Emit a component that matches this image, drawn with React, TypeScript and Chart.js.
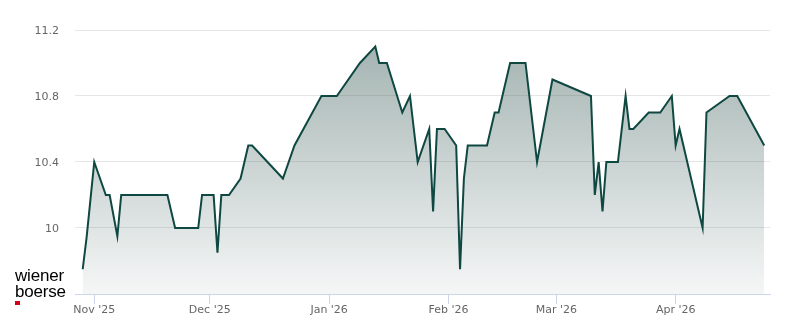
import React, { useEffect, useRef } from "react";
import { Chart, registerables } from "chart.js";

Chart.register(...registerables);

const dates: string[] = [
  "2025-10-29", "2025-10-30", "2025-11-01", "2025-11-04", "2025-11-05", "2025-11-07", "2025-11-08",
  "2025-11-20", "2025-11-22", "2025-11-28", "2025-11-29", "2025-12-02", "2025-12-03", "2025-12-04",
  "2025-12-06", "2025-12-09", "2025-12-11", "2025-12-12", "2025-12-20", "2025-12-23", "2025-12-30",
  "2026-01-03", "2026-01-09", "2026-01-13", "2026-01-14", "2026-01-16", "2026-01-20", "2026-01-22",
  "2026-01-24", "2026-01-27", "2026-01-28", "2026-01-29", "2026-01-31", "2026-02-03", "2026-02-04",
  "2026-02-05", "2026-02-06", "2026-02-11", "2026-02-13", "2026-02-14", "2026-02-17", "2026-02-21",
  "2026-02-24", "2026-02-28", "2026-03-10", "2026-03-11", "2026-03-12", "2026-03-13", "2026-03-14",
  "2026-03-17", "2026-03-19", "2026-03-20", "2026-03-21", "2026-03-25", "2026-03-28", "2026-03-31",
  "2026-04-01", "2026-04-02", "2026-04-08", "2026-04-09", "2026-04-15", "2026-04-17", "2026-04-24",
];

const prices: number[] = [
  9.75, 9.94, 10.4, 10.2, 10.2, 9.95, 10.2,
  10.2, 10.0, 10.0, 10.2, 10.2, 9.85, 10.2,
  10.2, 10.3, 10.5, 10.5, 10.3, 10.5, 10.8,
  10.8, 11.0, 11.1, 11.0, 11.0, 10.7, 10.8,
  10.4, 10.6, 10.1, 10.6, 10.6, 10.5, 9.75,
  10.3, 10.5, 10.5, 10.7, 10.7, 11.0, 11.0,
  10.4, 10.9, 10.8, 10.2, 10.4, 10.1, 10.4,
  10.4, 10.8, 10.6, 10.6, 10.7, 10.7, 10.8,
  10.5, 10.6, 10.0, 10.7, 10.8, 10.8, 10.5,
];

const monthStarts: string[] = ["2025-11-01", "2025-12-01", "2026-01-01", "2026-02-01", "2026-03-01", "2026-04-01"];
const monthLabels: string[] = ["Nov '25", "Dec '25", "Jan '26", "Feb '26", "Mar '26", "Apr '26"];

const yTicks: number[] = [9.6, 10, 10.4, 10.8, 11.2];
const xRangeStart = "2025-10-27";
const xRangeEnd = "2026-04-25T12:00:00Z";

const toMs = (s: string) => (s.length === 10 ? Date.parse(s + "T00:00:00Z") : Date.parse(s));

export default function App() {
  const canvasRef = useRef<HTMLCanvasElement | null>(null);

  useEffect(() => {
    document.body.style.margin = "0";
    const canvas = canvasRef.current;
    if (!canvas) return;
    const tickMs = monthStarts.map(toMs);
    const points = dates.map((d, i) => ({ x: toMs(d), y: prices[i] }));

    const chart = new Chart(canvas, {
      type: "line",
      data: {
        datasets: [
          {
            data: points,
            borderColor: "#0f4842",
            borderWidth: 2,
            pointRadius: 0,
            tension: 0,
            fill: "start",
            backgroundColor: (ctx: any) => {
              const area = ctx.chart.chartArea;
              if (!area) return "rgba(55,90,85,0.2)";
              const g = ctx.chart.ctx.createLinearGradient(0, area.top, 0, area.bottom);
              g.addColorStop(0, "rgba(55,90,85,0.48)");
              g.addColorStop(1, "rgba(55,90,85,0.05)");
              return g;
            },
          },
        ],
      },
      options: {
        animation: false,
        responsive: false,
        layout: { padding: { top: 30, right: 30, left: 0, bottom: 0 } },
        plugins: { legend: { display: false }, tooltip: { enabled: false } },
        scales: {
          x: {
            type: "linear",
            min: toMs(xRangeStart),
            max: toMs(xRangeEnd),
            afterBuildTicks: (scale: any) => {
              scale.ticks = tickMs.map((v) => ({ value: v }));
            },
            afterFit: (scale: any) => {
              scale.height = 30;
            },
            grid: {
              drawOnChartArea: false,
              drawTicks: true,
              tickLength: 10,
              color: "#ccd6eb",
            },
            border: { display: true, color: "#ccd6eb" },
            ticks: {
              autoSkip: false,
              maxRotation: 0,
              padding: 0,
              color: "#666666",
              font: { family: '"DejaVu Sans", sans-serif', size: 11 },
              callback: (value: any) => {
                const idx = tickMs.indexOf(Number(value));
                return idx >= 0 ? monthLabels[idx] : "";
              },
            },
          },
          y: {
            min: yTicks[0],
            max: yTicks[yTicks.length - 1],
            afterBuildTicks: (scale: any) => {
              scale.ticks = yTicks.map((v) => ({ value: v }));
            },
            afterFit: (scale: any) => {
              scale.width = 75;
            },
            grid: { color: "#e6e6e6", drawTicks: false },
            border: { display: false },
            ticks: {
              padding: 16,
              labelOffset: 1,
              color: "#666666",
              font: { family: '"DejaVu Sans", sans-serif', size: 11 },
              callback: (value: any) => {
                const v = Number(value);
                if (Math.abs(v - yTicks[0]) < 1e-9) return "";
                return String(Math.round(v * 10) / 10);
              },
            },
          },
        },
      },
    } as any);

    return () => chart.destroy();
  }, []);

  return (
    <div style={{ position: "relative", width: 800, height: 324, background: "#ffffff" }}>
      <canvas ref={canvasRef} width={800} height={324} style={{ position: "absolute", left: 0, top: 0 }} />
      <div
        style={{
          position: "absolute",
          left: 15,
          top: 268,
          fontFamily: '"Liberation Sans", Arial, sans-serif',
          fontSize: 17,
          lineHeight: "16px",
          color: "#000000",
          letterSpacing: "-0.2px",
        }}
      >
        <div>wiener</div>
        <div>boerse</div>
      </div>
      <div style={{ position: "absolute", left: 15, top: 301, width: 5, height: 4, background: "#d0021b" }} />
    </div>
  );
}
